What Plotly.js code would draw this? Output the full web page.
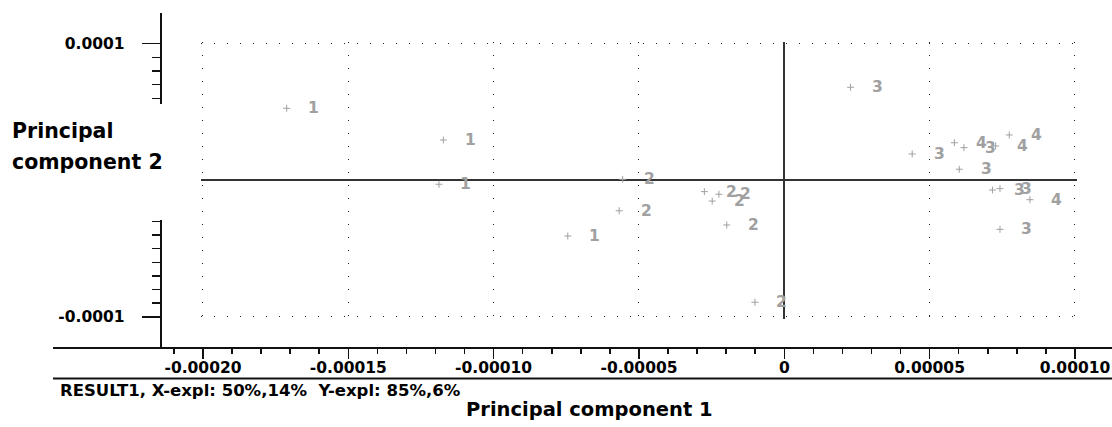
<!DOCTYPE html>
<html><head><meta charset="utf-8">
<script src="https://cdn.plot.ly/plotly-3.0.1.min.js"></script>
<style>html,body{margin:0;padding:0;background:#fff;}#chart{width:1112px;height:427px;}</style>
</head><body><div id="chart"></div>
<script>
// ---- data ----
const pointX = [-1.712e-4, -1.173e-4, -1.188e-4, -7.45e-5,
                -5.56e-5, -5.68e-5, -2.75e-5, -2.25e-5, -2.48e-5, -1.98e-5, -1.01e-5,
                 2.28e-5, 4.40e-5, 6.18e-5, 6.02e-5, 7.16e-5, 7.42e-5, 7.42e-5,
                 5.85e-5, 7.27e-5, 7.74e-5, 8.45e-5];
const pointY = [ 5.27e-5, 2.95e-5, -0.29e-5, -4.08e-5,
                 0.07e-5, -2.23e-5, -0.83e-5, -1.02e-5, -1.52e-5, -3.27e-5, -8.93e-5,
                 6.81e-5, 1.93e-5, 2.39e-5, 0.81e-5, -0.71e-5, -0.61e-5, -3.59e-5,
                 2.75e-5, 2.51e-5, 3.32e-5, -1.42e-5];
const pointLabel = ['1','1','1','1',
                    '2','2','2','2','2','2','2',
                    '3','3','3','3','3','3','3',
                    '4','4','4','4'];
const xTickVals = [-2e-4, -1.5e-4, -1e-4, -5e-5, 0, 5e-5, 1e-4];
const xTickText = ['-0.00020','-0.00015','-0.00010','-0.00005','0','0.00005','0.00010'];
const yTickVals = [-1e-4, 1e-4];
const yTickText = ['-0.0001','0.0001'];
const xTitle = 'Principal component 1';
const yTitle1 = 'Principal';
const yTitle2 = 'component 2';
const footer = 'RESULT1, X-expl: 50%,14%\u00A0\u00A0Y-expl: 85%,6%';

// ---- layout geometry (pixels) ----
const W = 1112, H = 427;
const XS = 2906667, X0 = 784.3;   // px per unit, px of zero
const YS = 1366000, Y0 = 180.3;
const fx = p => p / W, fy = p => 1 - p / H;

const xMinor = [], yMinor = [];
for (let k = -21; k <= 10; k++) if (k % 5 !== 0) xMinor.push(k * 1e-5);
for (let k = -9; k <= 9; k++) if (k !== 0 && (k >= 6 || k <= -3)) yMinor.push(k * 1e-5);

const tickFont = {family: 'DejaVu Sans', size: 15.5, color: '#000', weight: 'bold'};
const axCol = '#111';

const traces = [
  {type: 'scatter', x: [], y: [], xaxis: 'x', yaxis: 'y', hoverinfo: 'skip'},
  {type: 'scatter', mode: 'markers', x: pointX, y: pointY, xaxis: 'x2', yaxis: 'y2',
   marker: {symbol: 'cross-thin', size: 5, line: {width: 1, color: '#a0a0a0'}, color: '#a0a0a0'},
   cliponaxis: false, hoverinfo: 'skip'}
];

const annotations = pointX.map((x, i) => ({
  x: x, y: pointY[i], xref: 'x2', yref: 'y2', text: pointLabel[i], showarrow: false,
  xshift: 27, xanchor: 'center', yanchor: 'middle',
  font: {family: 'DejaVu Sans', size: 15.5, color: '#a0a0a0', weight: 'bold'}
}));
annotations.push(
  {xref: 'paper', yref: 'paper', x: fx(589), y: fy(409), text: xTitle, showarrow: false,
   xanchor: 'center', yanchor: 'middle', font: {family: 'DejaVu Sans', size: 19.5, color: '#000', weight: 'bold'}},
  {xref: 'paper', yref: 'paper', x: fx(10), y: fy(131), text: yTitle1, showarrow: false,
   xanchor: 'left', yanchor: 'middle', font: {family: 'DejaVu Sans', size: 20.5, color: '#000', weight: 'bold'}},
  {xref: 'paper', yref: 'paper', x: fx(10), y: fy(162), text: yTitle2, showarrow: false,
   xanchor: 'left', yanchor: 'middle', font: {family: 'DejaVu Sans', size: 20.5, color: '#000', weight: 'bold'}},
  {xref: 'paper', yref: 'paper', x: fx(58), y: fy(390), text: footer, showarrow: false,
   xanchor: 'left', yanchor: 'middle', font: {family: 'DejaVu Sans', size: 16.5, color: '#000', weight: 'bold'}}
);

const layout = {
  width: W, height: H, margin: {l: 0, r: 0, t: 0, b: 0, pad: 0},
  paper_bgcolor: '#fff', plot_bgcolor: 'rgba(0,0,0,0)', showlegend: false,
  xaxis: {
    domain: [fx(53), 1], range: [(53 - X0) / XS, (1112 - X0) / XS], anchor: 'y',
    showline: true, linecolor: axCol, linewidth: 2, showgrid: false, zeroline: false,
    tickmode: 'array', tickvals: xTickVals, ticktext: xTickText,
    ticks: 'outside', ticklen: 10, tickwidth: 1.5, tickcolor: axCol, tickfont: tickFont,
    ticklabelstandoff: -4,
    minor: {tickmode: 'array', tickvals: xMinor, ticks: 'outside', ticklen: 5, tickwidth: 1.5, tickcolor: axCol, showgrid: false},
    fixedrange: true
  },
  yaxis: {
    domain: [fy(346.8), fy(13)], range: [-(346.8 - Y0) / YS, (Y0 - 13) / YS],
    anchor: 'free', position: fx(160.7), side: 'left',
    showline: true, linecolor: axCol, linewidth: 2, showgrid: false, zeroline: false,
    tickmode: 'array', tickvals: yTickVals, ticktext: yTickText,
    ticks: 'outside', ticklen: 18, tickwidth: 1.5, tickcolor: axCol, tickfont: tickFont,
    ticklabelstandoff: 14,
    minor: {tickmode: 'array', tickvals: yMinor, ticks: 'outside', ticklen: 8, tickwidth: 1.5, tickcolor: axCol, showgrid: false},
    fixedrange: true
  },
  xaxis2: {
    domain: [fx(201.3), fx(1077.3)], range: [(201.3 - X0) / XS, (1077.3 - X0) / XS], anchor: 'y2',
    showline: false, showticklabels: false, ticks: '',
    tickmode: 'array', tickvals: xTickVals,
    showgrid: true, gridcolor: '#222', gridwidth: 1, griddash: '1px,12px',
    zeroline: true, zerolinecolor: '#333', zerolinewidth: 2, fixedrange: true
  },
  yaxis2: {
    domain: [fy(318.7), fy(41.5)], range: [-(318.7 - Y0) / YS, (Y0 - 41.5) / YS], anchor: 'x2',
    showline: false, showticklabels: false, ticks: '',
    tickmode: 'array', tickvals: [-1e-4, 0, 1e-4],
    showgrid: true, gridcolor: '#222', gridwidth: 1, griddash: '1px,12px',
    zeroline: true, zerolinecolor: '#333', zerolinewidth: 2, fixedrange: true
  },
  shapes: [
    // white gap over the y axis line behind the title
    {type: 'rect', xref: 'paper', yref: 'paper', x0: fx(150), x1: fx(164), y0: fy(220), y1: fy(104),
     fillcolor: '#fff', line: {width: 0}, layer: 'above'},
    // second horizontal rule below the tick labels
    {type: 'line', xref: 'paper', yref: 'paper', x0: fx(53), x1: 1, y0: fy(378.5), y1: fy(378.5),
     line: {color: axCol, width: 2}}
  ],
  annotations: annotations
};

Plotly.newPlot('chart', traces, layout, {displayModeBar: false, staticPlot: true});
</script>
</body></html>
